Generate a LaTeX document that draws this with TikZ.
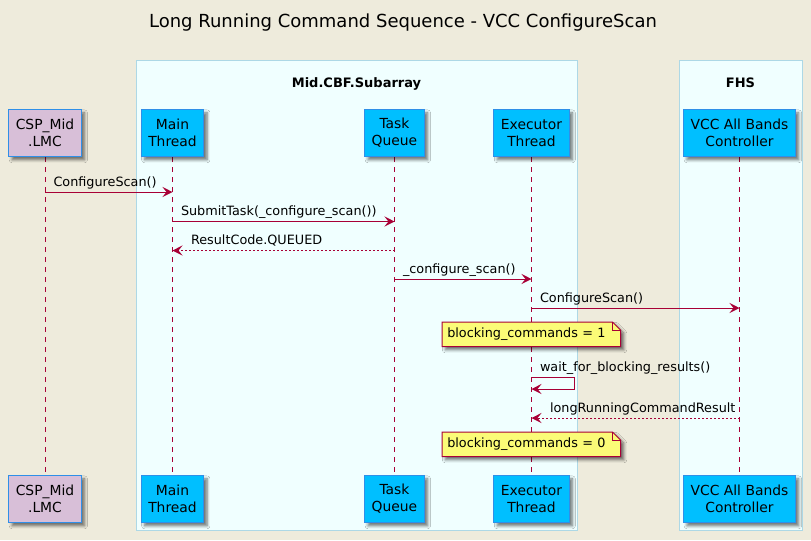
\documentclass[tikz,border=0pt]{standalone}
\usepackage{fontspec}
\setmainfont{DejaVu Sans}
\usetikzlibrary{arrows.meta,shadows,shadows.blur,backgrounds}
\definecolor{bgbeige}{HTML}{EEEBDC}
\definecolor{grpfill}{HTML}{F0FFFF}
\definecolor{grpline}{HTML}{ADD8E6}
\definecolor{partfill}{HTML}{00BFFF}
\definecolor{partline}{HTML}{2F8FE8}
\definecolor{lmcfill}{HTML}{D8BFD8}
\definecolor{seqred}{HTML}{A80036}
\definecolor{notefill}{HTML}{FBFB77}

\begin{document}
\begin{tikzpicture}[x=0.75pt, y=-0.75pt, >={Stealth[length=7.5pt,width=7.5pt,inset=3pt]},
  every node/.style={font=\fontsize{9.6}{11.5}\selectfont},
  part/.style={draw=partline, fill=partfill, line width=0.75pt, minimum height=35.25pt,
    inner xsep=5.25pt, inner ysep=0pt, align=center, anchor=north,
    font=\fontsize{10.4}{12.75}\selectfont,
    blur shadow={shadow xshift=2.5pt, shadow yshift=-2.5pt, shadow blur steps=6, shadow opacity=55}},
  grp/.style={draw=grpline, fill=grpfill, line width=0.75pt},
  life/.style={draw=seqred, line width=0.75pt, dash pattern=on 3.75pt off 3.75pt},
  msg/.style={draw=seqred, line width=0.75pt, ->},
  reply/.style={msg, dash pattern=on 1.5pt off 1.5pt},
  lbl/.style={inner sep=0pt, anchor=base west, yshift=4.5pt, text=black},
  notetext/.style={inner xsep=3.75pt, inner ysep=0pt, minimum height=18pt,
    text width=126pt, align=left, anchor=north west},
  noteshape/.style={draw=seqred, fill=notefill, line width=0.75pt,
    blur shadow={shadow xshift=2.5pt, shadow yshift=-2.5pt, shadow blur steps=6, shadow opacity=55}},
  notefold/.style={draw=seqred, line width=0.75pt}
]
\useasboundingbox (0,0) rectangle (811,540);

\node[anchor=base, font=\fontsize{13.5}{16}\selectfont] (title) at (403,27) {Long Running Command Sequence - VCC ConfigureScan};

% boxes
\node[anchor=base, font=\fontsize{9.75}{12}\selectfont\bfseries] (subT) at (356.5,87) {Mid.CBF.Subarray};
\node[anchor=base, font=\fontsize{9.75}{12}\selectfont\bfseries] (fhsT) at (740.5,87) {FHS};

% participants
\node[part, fill=lmcfill] (lmc) at (45,109) {CSP\_Mid\\.LMC};
\node[part] (mainT) at (172.5,109) {Main\\Thread};
\node[part] (queue) at (394.5,109) {Task\\Queue};
\node[part] (exec) at (531.5,109) {Executor\\Thread};
\node[part] (vcc) at (739.5,109) {VCC All Bands\\Controller};
\node[part, fill=lmcfill] (lmc2) at (45,475) {CSP\_Mid\\.LMC};
\node[part] (mainT2) at (172.5,475) {Main\\Thread};
\node[part] (queue2) at (394.5,475) {Task\\Queue};
\node[part] (exec2) at (531.5,475) {Executor\\Thread};
\node[part] (vcc2) at (739.5,475) {VCC All Bands\\Controller};

\begin{scope}[on background layer]
\fill[bgbeige] (0,0) rectangle (811,540);
\draw[grp] (136,60) rectangle (577,530);
\draw[grp] (679,60) rectangle (802,530);
\foreach \p in {lmc,mainT,queue,exec,vcc}
  \draw[life] (\p.south) -- (\p2.north);
\end{scope}

% messages
\coordinate (r1) at (0,192);
\coordinate (r2) at (0,221.5);
\coordinate (r3) at (0,250.5);
\coordinate (r4) at (0,279);
\coordinate (r5) at (0,308);
\coordinate (r6) at (0,377);
\coordinate (r7) at (0,389);
\coordinate (r8) at (0,418);
\draw[msg] (lmc |- r1) -- node[lbl, pos=0, xshift=6pt] {ConfigureScan()} (mainT |- r1);
\draw[msg] (mainT |- r2) -- node[lbl, pos=0, xshift=6pt] {SubmitTask(\_configure\_scan())} (queue |- r2);
\draw[reply] (queue |- r3) -- node[lbl, pos=1, xshift=13.5pt] {ResultCode.QUEUED} (mainT |- r3);
\draw[msg] (queue |- r4) -- node[lbl, pos=0, xshift=6pt] {\_configure\_scan()} (exec |- r4);
\draw[msg] (exec |- r5) -- node[lbl, pos=0, xshift=6pt] {ConfigureScan()} (vcc |- r5);
\draw[msg] (exec |- r6) node[lbl, xshift=6pt] {wait\_for\_blocking\_results()} -- ++(43,0) |- (exec |- r7);
\draw[reply] (vcc |- r8) -- node[lbl, pos=1, xshift=13.5pt] {longRunningCommandResult} (exec |- r8);

% notes
\node[notetext] (note1) at (442,322) {blocking\_commands = 1};
\node[notetext] (note2) at (442,432) {blocking\_commands = 0};
\begin{scope}[on background layer]
\foreach \n in {note1,note2} {
  \draw[noteshape] (\n.south west) -- (\n.north west) -- ([xshift=-6pt]\n.north east)
    -- ([yshift=-6pt]\n.north east) -- (\n.south east) -- cycle;
  \draw[notefold] ([xshift=-6pt]\n.north east) |- ([yshift=-6pt]\n.north east);
}
\end{scope}
\end{tikzpicture}
\end{document}
